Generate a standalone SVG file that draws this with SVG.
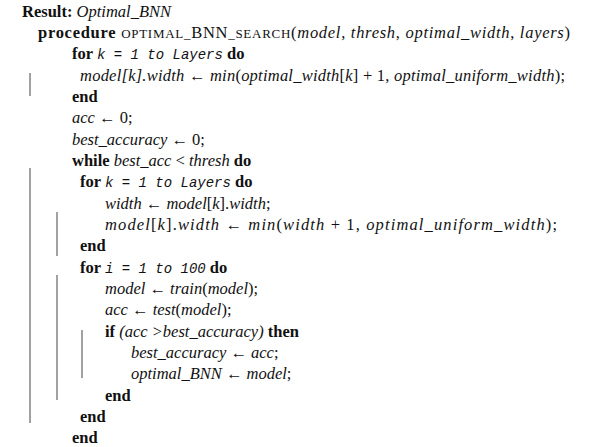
<svg xmlns="http://www.w3.org/2000/svg" width="613" height="447" viewBox="0 0 613 447">
<style>
text{font-family:"Liberation Serif",serif;font-size:16.5px;fill:#111}
.b{font-weight:bold}.i{font-style:italic}.sc{font-size:13px}
.tt{font-family:"Liberation Mono",monospace;font-style:italic;font-size:14px}
line{stroke:#444;stroke-width:1}
</style>
<rect width="613" height="447" fill="#fff"/>
<g id="bars">
<line x1="30" y1="73" x2="30" y2="96"/>
<line x1="30" y1="168" x2="30" y2="423"/>
<line x1="57" y1="212" x2="57" y2="256"/>
<line x1="57" y1="275" x2="57" y2="400"/>
<line x1="82" y1="330" x2="82" y2="378"/>
</g>
<g id="lines">
<text x="22" y="17"><tspan class="b">Result: </tspan><tspan class="i">Optimal_BNN</tspan></text>
<text x="38" y="38" textLength="532" lengthAdjust="spacing"><tspan class="b">procedure </tspan><tspan class="sc">OPTIMAL_</tspan>BNN<tspan class="sc">_SEARCH</tspan>(<tspan class="i">model</tspan>, <tspan class="i">thresh</tspan>, <tspan class="i">optimal_width</tspan>, <tspan class="i">layers</tspan>)</text>
<text x="72" y="59"><tspan class="b">for </tspan><tspan class="tt">k = 1 to Layers</tspan><tspan class="b"> do</tspan></text>
<text x="80" y="81" class="i" textLength="485" lengthAdjust="spacing">model[k].width <tspan font-style="normal">← </tspan>min<tspan font-style="normal">(</tspan>optimal_width<tspan font-style="normal">[</tspan>k<tspan font-style="normal">] + 1, </tspan>optimal_uniform_width<tspan font-style="normal">);</tspan></text>
<text x="72" y="102" class="b">end</text>
<text x="72" y="123"><tspan class="i">acc</tspan> ← 0;</text>
<text x="72" y="145"><tspan class="i">best_accuracy</tspan> ← 0;</text>
<text x="72" y="166"><tspan class="b">while </tspan><tspan class="i">best_acc</tspan> &lt; <tspan class="i">thresh</tspan><tspan class="b"> do</tspan></text>
<text x="80" y="187"><tspan class="b">for </tspan><tspan class="tt">k = 1 to Layers</tspan><tspan class="b"> do</tspan></text>
<text x="105" y="209"><tspan class="i">width</tspan> ← <tspan class="i">model</tspan>[<tspan class="i">k</tspan>].<tspan class="i">width</tspan>;</text>
<text x="105" y="230" textLength="452" lengthAdjust="spacing"><tspan class="i">model</tspan>[<tspan class="i">k</tspan>].<tspan class="i">width</tspan> ← <tspan class="i">min</tspan>(<tspan class="i">width</tspan> + 1, <tspan class="i">optimal_uniform_width</tspan>);</text>
<text x="80" y="251" class="b">end</text>
<text x="80" y="273"><tspan class="b">for </tspan><tspan class="tt">i = 1 to 100</tspan><tspan class="b"> do</tspan></text>
<text x="105" y="294"><tspan class="i">model</tspan> ← <tspan class="i">train</tspan>(<tspan class="i">model</tspan>);</text>
<text x="105" y="315"><tspan class="i">acc</tspan> ← <tspan class="i">test</tspan>(<tspan class="i">model</tspan>);</text>
<text x="105" y="337"><tspan class="b">if </tspan><tspan class="i">(acc &gt;best_accuracy)</tspan><tspan class="b"> then</tspan></text>
<text x="131" y="358"><tspan class="i">best_accuracy</tspan> ← <tspan class="i">acc</tspan>;</text>
<text x="131" y="379"><tspan class="i">optimal_BNN</tspan> ← <tspan class="i">model</tspan>;</text>
<text x="105" y="401" class="b">end</text>
<text x="80" y="422" class="b">end</text>
<text x="72" y="443" class="b">end</text>
</g>
</svg>
